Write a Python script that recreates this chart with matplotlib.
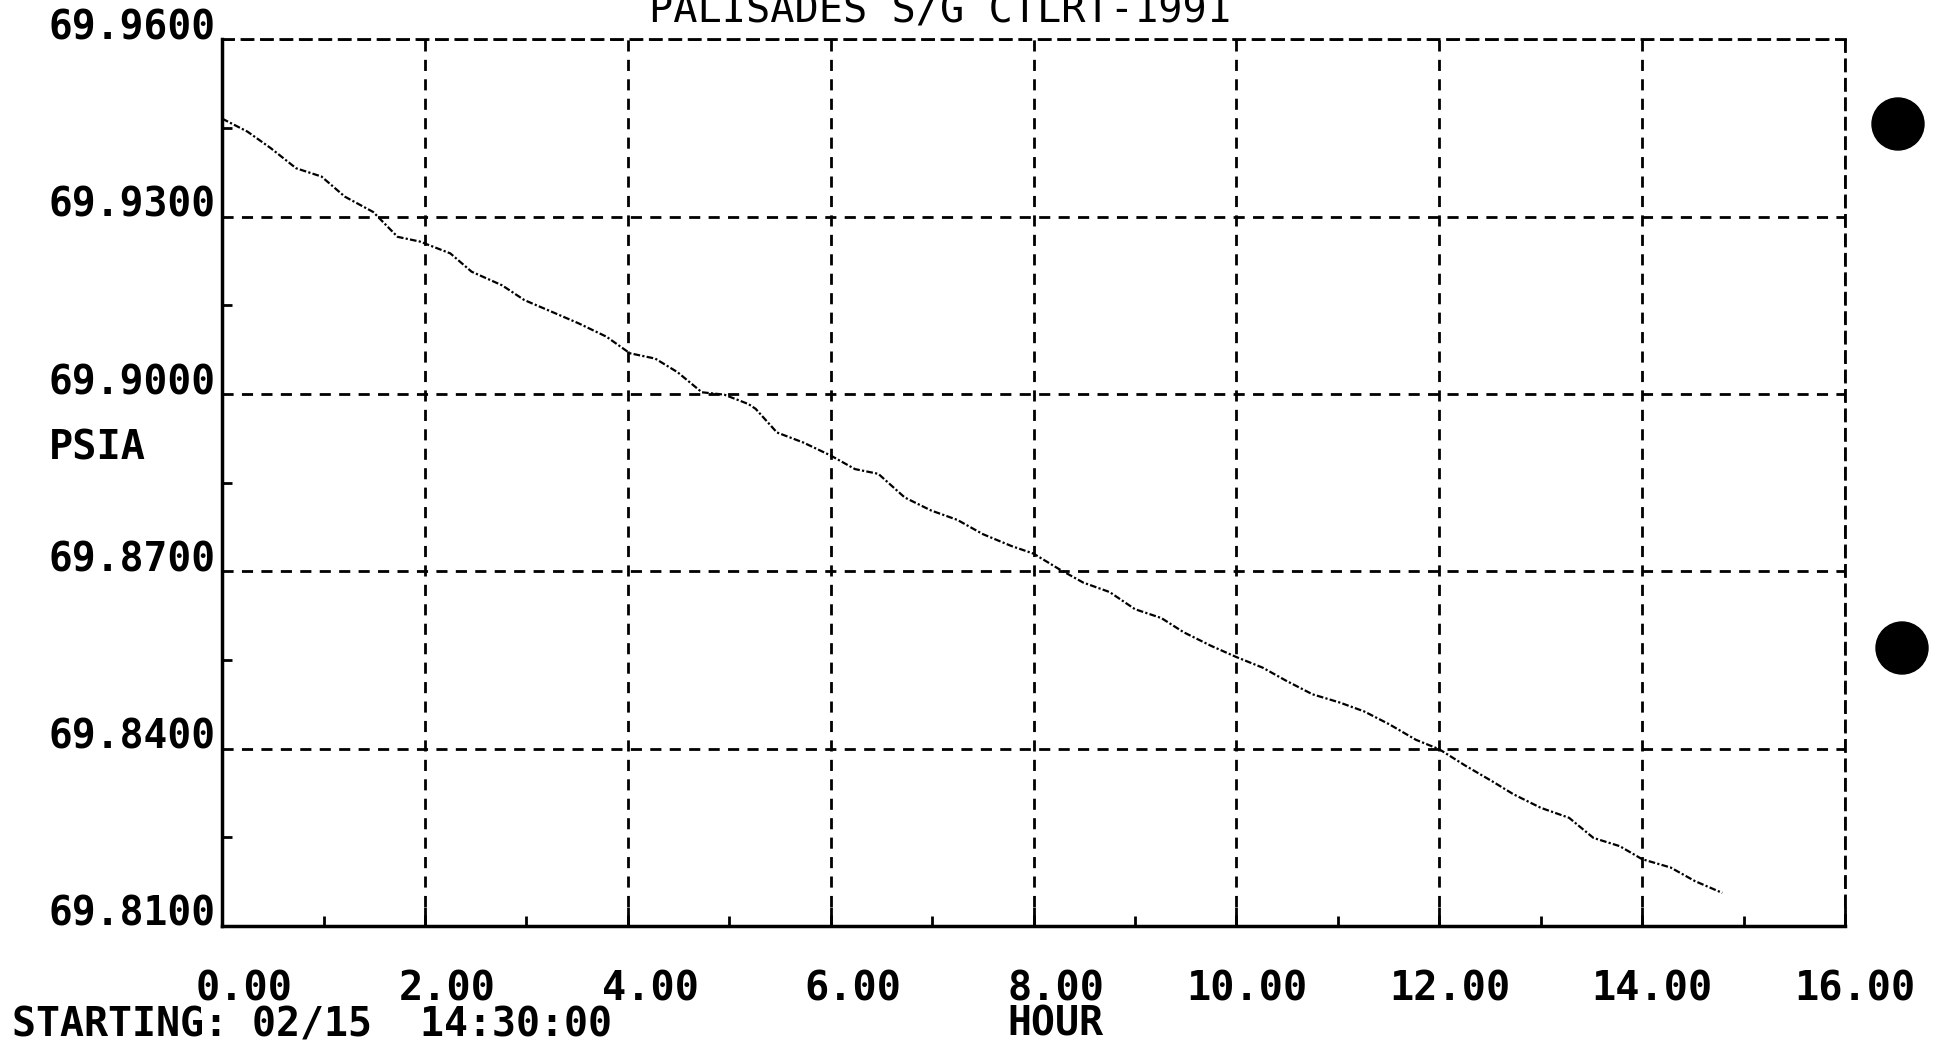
import matplotlib.pyplot as plt
from matplotlib.patches import Circle

# Data (hours since start, pressure in psia)
horas = [0.00, 0.25, 0.48, 0.73, 0.98, 1.21, 1.49, 1.73, 1.95, 2.25,
         2.46, 2.76, 2.98, 3.28, 3.51, 3.79, 4.02, 4.27, 4.49, 4.73,
         4.95, 5.19, 5.26, 5.47, 5.73, 6.00, 6.24, 6.47, 6.73, 6.99,
         7.25, 7.50, 7.78, 8.00, 8.25, 8.49, 8.75, 9.00, 9.26, 9.48,
         9.75, 10.00, 10.26, 10.49, 10.75, 11.02, 11.26, 11.51, 11.77, 12.00,
         12.26, 12.52, 12.73, 13.00, 13.28, 13.52, 13.78, 14.00, 14.28, 14.52,
         14.79]
presion = [69.9466, 69.9444, 69.9416, 69.9382, 69.9368, 69.9334, 69.9308, 69.9266, 69.9258, 69.9238,
           69.9207, 69.9184, 69.9159, 69.9137, 69.9120, 69.9097, 69.9069, 69.9060, 69.9037, 69.9003,
           69.8999, 69.8983, 69.8975, 69.8935, 69.8918, 69.8896, 69.8873, 69.8865, 69.8825, 69.8803,
           69.8787, 69.8763, 69.8743, 69.8730, 69.8704, 69.8681, 69.8665, 69.8636, 69.8621, 69.8597,
           69.8574, 69.8555, 69.8537, 69.8515, 69.8492, 69.8478, 69.8463, 69.8441, 69.8415, 69.8399,
           69.8371, 69.8345, 69.8323, 69.8300, 69.8283, 69.8249, 69.8235, 69.8213, 69.8199, 69.8176,
           69.8156]

xticks = [0, 2, 4, 6, 8, 10, 12, 14, 16]
xtick_labels = ['0.00', '2.00', '4.00', '6.00', '8.00', '10.00', '12.00', '14.00', '16.00']
yticks = [69.81, 69.84, 69.87, 69.90, 69.93, 69.96]
ytick_labels = ['69.8100', '69.8400', '69.8700', '69.9000', '69.9300', '69.9600']

titulo = 'PALISADES S/G CTLRT-1991'
unidad = 'PSIA'
inicio = 'STARTING: 02/15  14:30:00'
eje_x = 'HOUR'

fuente = 'DejaVu Sans Mono'
guion = (0, (4, 3))

fig = plt.figure(figsize=(19.38, 10.43), dpi=100)
ax = fig.add_axes([0.1146, 0.1122, 0.8374, 0.850])

ax.plot(horas, presion, color='black', linewidth=1.6, linestyle=(0, (3, 1, 1, 1)))

ax.set_xlim(0, 16)
ax.set_ylim(69.81, 69.96)

# grid and frame
ax.set_xticks(xticks)
ax.set_xticks([1, 3, 5, 7, 9, 11, 13, 15], minor=True)
ax.set_yticks(yticks, ytick_labels)
ax.set_yticks([69.825, 69.855, 69.885, 69.915, 69.945], minor=True)
ax.grid(True, which='major', color='black', linewidth=2, linestyle=guion)
for lado in ['left', 'bottom']:
    ax.spines[lado].set_linewidth(2.5)
for lado in ['top', 'right']:
    ax.spines[lado].set_linewidth(2)
    ax.spines[lado].set_linestyle(guion)

ax.tick_params(axis='both', which='both', direction='in', color='black', width=2)
ax.tick_params(axis='x', which='major', length=14, labelbottom=False)
ax.tick_params(axis='x', which='minor', length=7)
ax.tick_params(axis='y', which='major', length=0, pad=5, labelsize=28.5)
ax.tick_params(axis='y', which='minor', length=7)
for etiqueta in ax.get_yticklabels():
    etiqueta.set_fontfamily(fuente)
    etiqueta.set_fontweight('bold')
    etiqueta.set_verticalalignment('baseline')

# x labels sit right-aligned a bit past each tick, as on the printout
trans_x = ax.get_xaxis_transform()
for valor, texto in zip(xticks, xtick_labels):
    ax.annotate(texto, xy=(valor, 0), xycoords=trans_x, xytext=(51, -31),
                textcoords='offset points', ha='right', va='top',
                fontsize=29, fontfamily=fuente, fontweight='bold')

fig.text(0.485, 1 - 22 / 1043, titulo, ha='center', va='baseline',
         fontsize=29, fontfamily=fuente)
fig.text(49 / 1938, 1 - 460 / 1043, unidad, ha='left', va='baseline',
         fontsize=29, fontfamily=fuente, fontweight='bold')
fig.text(12 / 1938, 1 - 1036 / 1043, inicio, ha='left', va='baseline',
         fontsize=28.7, fontfamily=fuente, fontweight='bold')
fig.text(1007 / 1938, 1 - 1036 / 1043, eje_x, ha='left', va='baseline',
         fontsize=28.7, fontfamily=fuente, fontweight='bold')

# binder holes on the right margin
for cx, cy in [(18.98, 10.43 - 1.24), (19.02, 10.43 - 6.48)]:
    fig.patches.append(Circle((cx, cy), 0.26, transform=fig.dpi_scale_trans,
                              color='black'))

fig.savefig('out.png', dpi=100)
